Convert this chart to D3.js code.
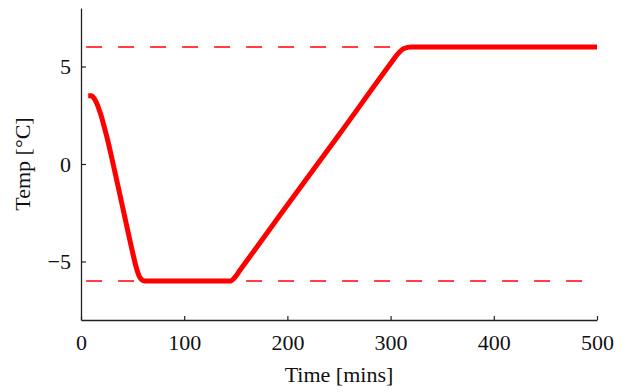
<!DOCTYPE html>
<html>
<head>
<meta charset="utf-8">
<script src="https://cdn.jsdelivr.net/npm/d3@7"></script>
<style>
  html, body { margin: 0; padding: 0; background: #fff; }
  svg { display: block; }
  svg text { font-family: "Liberation Serif", "DejaVu Serif", "Times New Roman", serif !important; fill: #111; }
</style>
</head>
<body>
<svg id="chart" width="627" height="392"></svg>
<script>
// Data
const timeMins = [7, 10, 12, 14, 16, 18, 20, 22, 25, 30, 40, 50, 53, 56, 58.5, 62, 100, 145, 149, 154, 200, 250, 300, 307, 313, 320, 400, 500];
const tempC    = [3.5, 3.5, 3.42, 3.25, 3.02, 2.72, 2.4, 2.0, 1.4, 0.27, -2.13, -4.53, -5.2, -5.7, -5.92, -6, -6, -6, -5.82, -5.45, -2.1, 1.5, 5.15, 5.65, 5.92, 6, 6, 6];
const limitLevels = [6, -6];
const limitRange = [5, 490];
const xTicks = [0, 100, 200, 300, 400, 500];
const yTicks = [-5, 0, 5];
const xLabel = "Time [mins]";
const yLabel = "Temp [°C]";

const FONT = '"Liberation Serif", "DejaVu Serif", "Times New Roman", serif';
const svg = d3.select("#chart");
const m = { left: 81, right: 597, top: 8, bottom: 320 };

const x = d3.scaleLinear().domain([0, 500]).range([m.left, m.right]);
const y = d3.scaleLinear().domain([-8, 8]).range([m.bottom, m.top]);

// Dashed limit lines
svg.selectAll("line.limit")
  .data(limitLevels)
  .join("line")
  .attr("class", "limit")
  .attr("x1", x(limitRange[0]))
  .attr("x2", x(limitRange[1]))
  .attr("y1", d => y(d))
  .attr("y2", d => y(d))
  .attr("stroke", "#ff0000")
  .attr("stroke-width", 1.3)
  .attr("stroke-dasharray", "16,16");

// Temperature line
const pts = timeMins.map((t, i) => [t, tempC[i]]);
svg.append("path")
  .datum(pts)
  .attr("fill", "none")
  .attr("stroke", "#ff0000")
  .attr("stroke-width", 5)
  .attr("stroke-linejoin", "round")
  .attr("d", d3.line().x(d => x(d[0])).y(d => y(d[1])).curve(d3.curveMonotoneX));

// Axes (ticks pointing inward)
const xAxis = d3.axisBottom(x).tickValues(xTicks).tickSizeInner(-4).tickSizeOuter(0).tickPadding(14);
const gx = svg.append("g").attr("transform", `translate(0,${m.bottom})`).call(xAxis)
  .attr("font-family", FONT).attr("font-size", 22);
gx.select(".domain").attr("stroke", "#222").attr("stroke-width", 1.3);
gx.selectAll(".tick line").attr("stroke", "#222").attr("stroke-width", 1.2);
gx.selectAll(".tick text").attr("fill", "#111");

const fmtY = d => d < 0 ? "\u2212" + Math.abs(d) : String(d);
const yAxis = d3.axisLeft(y).tickValues(yTicks).tickFormat(fmtY).tickSizeInner(-5).tickSizeOuter(0).tickPadding(10);
const gy = svg.append("g").attr("transform", `translate(${m.left},0)`).call(yAxis)
  .attr("font-family", FONT).attr("font-size", 22);
gy.select(".domain").attr("stroke", "#222").attr("stroke-width", 1.3);
gy.selectAll(".tick line").attr("stroke", "#222").attr("stroke-width", 1.2);
gy.selectAll(".tick text").attr("fill", "#111");

// Axis titles
svg.append("text")
  .attr("x", (m.left + m.right) / 2)
  .attr("y", 382)
  .attr("text-anchor", "middle")
  .attr("font-family", FONT)
  .attr("font-size", 22)
  .text(xLabel);

svg.append("text")
  .attr("transform", `translate(30,${(m.top + m.bottom) / 2}) rotate(-90)`)
  .attr("text-anchor", "middle")
  .attr("font-family", FONT)
  .attr("font-size", 22)
  .text(yLabel);
</script>
</body>
</html>
